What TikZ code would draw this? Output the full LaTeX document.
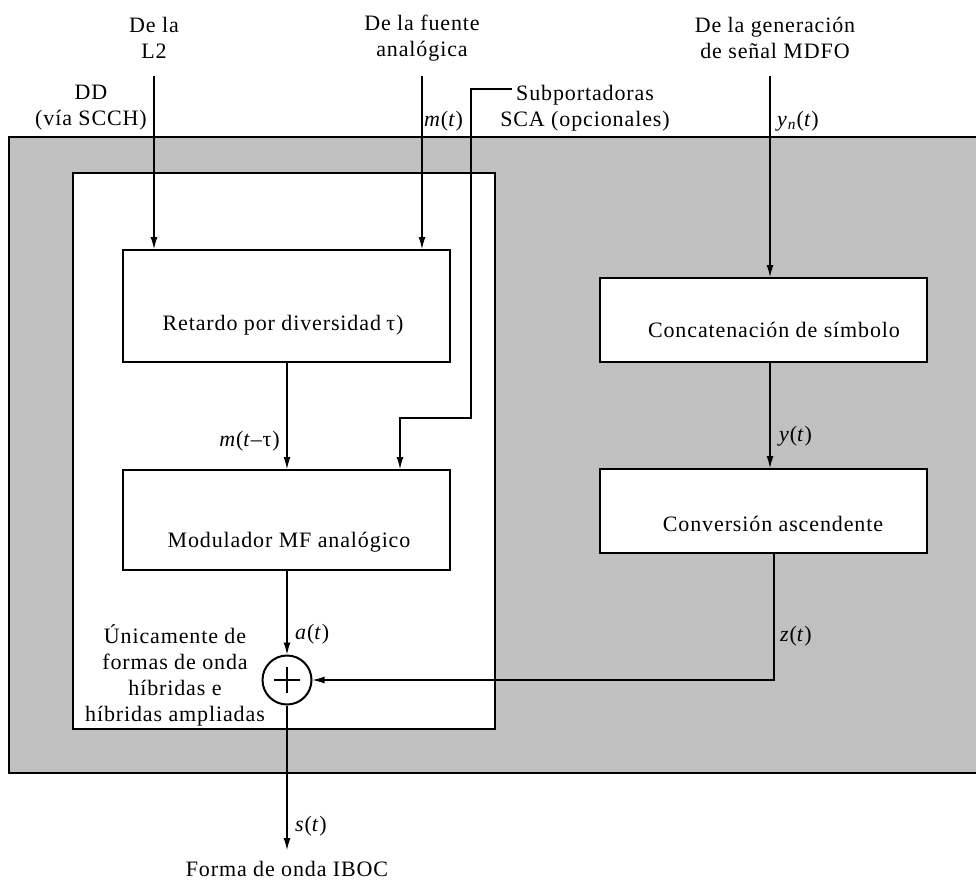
\documentclass[tikz,border=0pt]{standalone}
\usepackage{fontspec}
\setmainfont[LetterSpace=4]{Liberation Serif}
\usetikzlibrary{arrows.meta}
\begin{document}
\begin{tikzpicture}[x=1pt,y=-1pt,
  every node/.style={font=\fontsize{22}{26}\selectfont, inner sep=0pt},
  arr/.style={line width=1.1pt, -{Latex[length=12pt,width=7pt]}},
  blk/.style={draw, line width=2pt, fill=white, rectangle},
  txt/.style={align=center}]
\useasboundingbox (0,0) rectangle (976,883);
% outer grey panel and inner white panel
\fill[fill={rgb,255:red,192;green,192;blue,192}, draw=black, line width=2pt] (9,137) rectangle (990,773);
\draw[fill=white, line width=2pt] (73,173) rectangle (495,729);
% blocks
\node[blk, minimum width=327pt, minimum height=112pt] (b1) at (286.5,306) {};
\node[blk, minimum width=327pt, minimum height=100pt] (b2) at (286.5,520) {};
\node[blk, minimum width=327pt, minimum height=84pt] (b3) at (763.5,320) {};
\node[blk, minimum width=327pt, minimum height=84pt] (b4) at (763.5,511) {};
\node (t1) at (283,325) {Retardo por diversidad \kern-0.05em τ)};
\node (t2) at (289,542) {Modulador MF analógico};
\node (t3) at (774,330) {Concatenación de símbolo};
\node (t4) at (773,524) {Conversión ascendente};
% summing junction
\node[draw, circle, line width=2pt, minimum size=49pt] (sum) at (287,680) {};
\draw[line width=2pt] (287,667) -- (287,693) (274,680) -- (300,680);
% top labels
\node[txt] (lab1) at (154,38) {De la\\L2};
\node[txt] (lab2) at (422,38) {De la fuente\\analógica};
\node[txt] (lab3) at (775,38) {De la generación\\de señal MDFO};
\node[txt] (dd) at (91,108) {DD\\(vía SCCH)};
\node[txt] (sca) at (585,108) {Subportadoras\\SCA (opcionales)};
\node[anchor=west] (mt) at (424,121) {\textit{m}(\textit{t})};
\node[anchor=west] (ynt) at (777,121) {\textit{y}\textsubscript{\textit{n}}(\textit{t})};
% coordinates for free ends
\coordinate (c1) at (154,76);
\coordinate (c2) at (422,76);
\coordinate (c3) at (512,89);
\coordinate (c4) at (770,76);
\coordinate (out) at (287,850);
% connectors
\draw[arr] (c1) -- (c1 |- b1.north);
\draw[arr] (c2) -- (c2 |- b1.north);
\draw[arr] (c4) -- (c4 |- b3.north);
\draw[arr] (c3) -- (471,89) -- (471,418) -- (400,418) -- (400,418 |- b2.north);
\draw[arr] (287,0 |- b1.south) -- (287,0 |- b2.north);
\draw[arr] (770,0 |- b3.south) -- (770,0 |- b4.north);
\draw[arr] (287,0 |- b2.south) -- (sum.north);
\draw[arr] (774,0 |- b4.south) -- (774,680) -- (sum.east);
\draw[arr] (sum.south) -- (out);
% signal labels
\node[anchor=east] (mtt) at (280,441) {\textit{m}(\textit{t}–τ)};
\node[anchor=west] (yt) at (779,436) {\textit{y}(\textit{t})};
\node[anchor=west] (at) at (295,634) {\textit{a}(\textit{t})};
\node[anchor=west] (zt) at (780,636) {\textit{z}(\textit{t})};
\node[anchor=west] (st) at (295,826) {\textit{s}(\textit{t})};
\node[txt] (hyb) at (175,675) {Únicamente de\\formas de onda\\híbridas e\\híbridas ampliadas};
\node (ibo) at (287,869) {Forma de onda IBOC};
\end{tikzpicture}
\end{document}
